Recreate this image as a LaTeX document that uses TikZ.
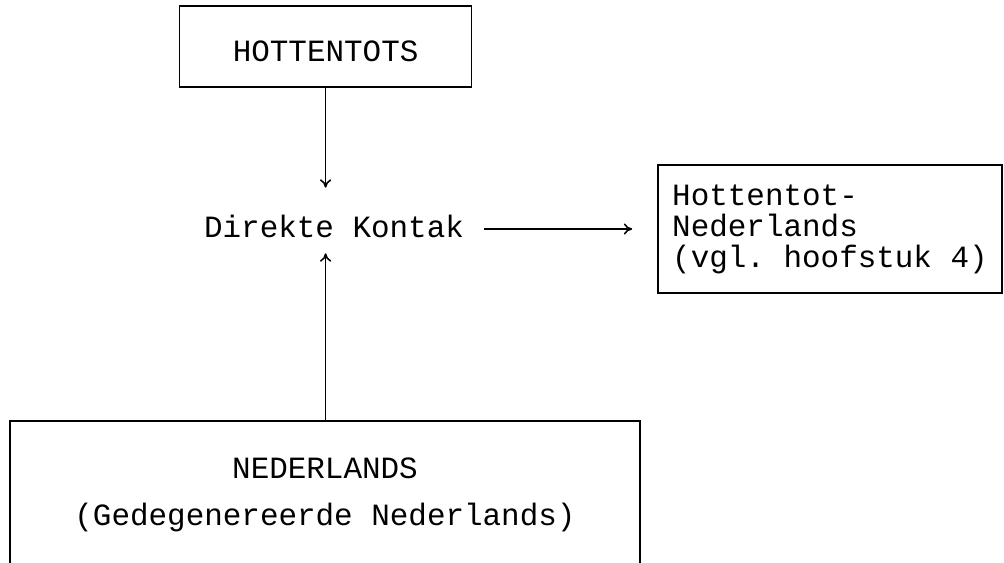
\documentclass[tikz,border=0pt]{standalone}
\usepackage{fontspec}
\setmonofont{Liberation Mono}
\usetikzlibrary{arrows.meta}

\begin{document}
\begin{tikzpicture}[
    every node/.style={font=\ttfamily\fontsize{22}{22}\selectfont},
    box/.style={draw, line width=1.1pt, inner sep=0pt},
    conn/.style={line width=1.1pt, -{To[length=6pt,width=8pt]}}
  ]
    % Fix the picture size
    \clip (0,0) rectangle (25.1,14.05);

    % Draw the boxes
    \node[box, minimum width=7.3cm, minimum height=2.03cm, text height=0.77cm, text depth=0pt] (hot) at (8.14,12.89) {HOTTENTOTS};
    \node[box, minimum width=8.6cm, minimum height=3.2cm, align=left] (hn) at (20.75,8.325) {Hottentot-\\Nederlands\\(vgl. hoofstuk 4)};
    \node[box, minimum width=15.75cm, minimum height=3.7cm, align=center] (nl) at (8.125,1.675) {NEDERLANDS\\[0.4cm](Gedegenereerde Nederlands)};

    % Label in the middle
    \node[inner xsep=0.5cm, inner ysep=0.375cm, text height=0.45cm, text depth=0pt, anchor=base] (kontak) at (8.35,8.1) {Direkte Kontak};

    % Draw the arrows
    \draw[conn, shorten >=0.425cm] (hot.south) -- (hot.south |- kontak.north);
    \draw[conn] (nl.north -| hot.south) -- (hot.south |- kontak.south);
    \draw[conn, shorten >=0.625cm] (kontak.east) -- (kontak.east -| hn.west);
\end{tikzpicture}
\end{document}
